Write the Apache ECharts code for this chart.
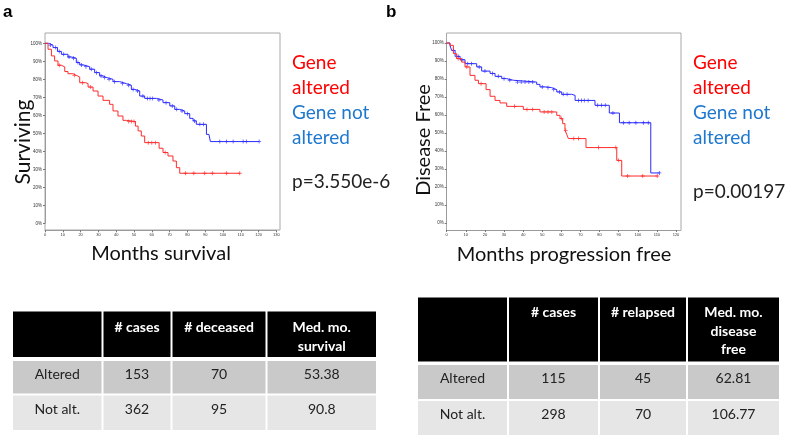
<!DOCTYPE html>
<html><head><meta charset="utf-8">
<script src="https://cdn.jsdelivr.net/npm/echarts@6/dist/echarts.min.js"></script>
<style>html,body{margin:0;padding:0;background:#fff}#c{width:787px;height:440px}</style>
</head><body><div id="c"></div>
<script>
// ---------- DATA ----------
const monthTicksA = [0,10,20,30,40,50,60,70,80,90,100,110,120,130];
const monthTicksB = [0,10,20,30,40,50,60,70,80,90,100,110,120];
// Panel a: overall survival (month, % surviving), step points
const survAltered = [[0,100],[1.7,96.7],[3.6,93.0],[5.4,90.2],[7.3,87.8],[9.2,86.9],[11.1,84.3],[12.9,83.1],[15.7,82.2],[17.6,81.3],[19.5,78.1],[22.9,77.6],[24.2,75.7],[27.0,73.5],[29.8,70.7],[32.6,68.3],[36.3,66.1],[38.2,62.4],[41.0,59.6],[43.8,57.2],[45.7,56.5],[50.8,54.0],[52.3,51.3],[54.1,48.5],[56.0,44.8],[64.1,41.7],[66.3,39.3],[69.1,37.4],[71.9,34.6],[73.8,30.9],[75.7,27.8],[109.4,27.8]];
const survAlteredCensor = [[8,87.8],[16.5,82.2],[21,78.1],[25.5,75.7],[47,56.5],[48.5,56.5],[50,56.5],[58,44.8],[60,44.8],[62,44.8],[67.5,39.3],[78.9,27.8],[83.6,27.8],[89.7,27.8],[94,27.8],[101.9,27.8],[109.4,27.8]];
const survNotAltered = [[0,100],[2,99],[4.5,97.6],[7,95.5],[9.2,93.9],[12.9,92.4],[14.8,91.7],[17.6,89.3],[19.5,88],[21.4,87],[25.1,85.6],[27.9,83.7],[30.7,81.9],[32.6,81],[34.5,80],[38.2,78.7],[42,77.6],[45.7,76.7],[48.5,74.4],[50.4,73.5],[53.2,70.7],[56,69.4],[62.6,68.5],[66.3,67],[70.1,65.2],[72.9,63.3],[75.7,62.4],[78.5,60.9],[81.3,58.3],[83.2,56.9],[85,55],[90.7,49.4],[92.1,48.5],[92.9,45.4],[120.3,45.4]];
const survNotAlteredCensor = [[3,99],[6,97.6],[8,95.5],[10.5,93.9],[13.5,92.4],[16,91.7],[18.5,89.3],[20.5,88],[23,87],[26,85.6],[29,83.7],[31.5,81.9],[33.5,81],[36,80],[39,78.7],[43.5,77.6],[47,76.7],[49.5,74.4],[52,73.5],[55,70.7],[57.5,69.4],[59,69.4],[60.5,69.4],[64,68.5],[68,67],[71.5,65.2],[74,63.3],[77,62.4],[80,60.9],[84,56.9],[87,55],[89,55],[98.2,45.4],[101.9,45.4],[105.7,45.4],[111.3,45.4],[113.1,45.4],[120.3,45.4]];
// Panel b: disease free (month, % disease free)
const dfsAltered = [[-9,100],[0,100],[1.7,98.7],[3.5,94.1],[5.2,91.3],[7.8,89.4],[9.6,86.7],[12.2,82],[14.8,79.3],[16.6,77.4],[20.6,74.1],[22.7,70.4],[25.3,68.1],[27.9,66.7],[31.4,64.8],[40.1,63.1],[48.8,61.7],[57.6,59.8],[59.3,58],[60.7,55.2],[61.9,51.5],[62.8,49.3],[63.7,46.9],[72.9,41.9],[89,34.8],[91.6,26.1],[110.2,26.1]];
const dfsAlteredCensor = [[6,91.3],[10.5,86.7],[18,77.4],[35.5,64.8],[42,63.1],[45,63.1],[51,61.7],[53,61.7],[55,61.7],[60,58],[62.3,51.5],[66.5,46.9],[69,46.9],[79.5,41.9],[88.5,41.9],[90,34.8],[94.7,26.1],[102.6,26.1],[110.2,26.1]];
const dfsNotAltered = [[0,100],[1.7,98.7],[2.6,95.9],[4.4,92.6],[7,90.7],[9.6,88.5],[15.7,86.7],[18.3,84.4],[22.7,83.1],[25.3,81.5],[28.8,80.2],[31.4,79.3],[34.9,78.3],[47.1,77],[48.8,75.6],[52.3,75.2],[54.9,74.1],[57.6,72.8],[60.2,71.5],[65.4,70.9],[67.2,68.1],[77.6,65.4],[85.1,61.1],[90.4,55.7],[106.8,27.8],[111.3,27.8]];
const dfsNotAlteredCensor = [[3.5,95.9],[6,92.6],[8,90.7],[11,88.5],[13,88.5],[17,86.7],[20,84.4],[24,83.1],[27,81.5],[30,80.2],[33,79.3],[37,78.3],[39,78.3],[41,78.3],[43,78.3],[45,78.3],[50,75.6],[53,75.2],[56,74.1],[59,72.8],[61,71.5],[63,71.5],[69,68.1],[70.5,68.1],[72,68.1],[74,68.1],[79,65.4],[81,65.4],[83,65.4],[87,61.1],[92.5,55.7],[95.5,55.7],[99,55.7],[103,55.7],[105.5,55.7],[111.3,27.8]];
// Texts
const panelLetters = ['a','b'];
const yNames = ['Surviving','Disease Free'];
const xNames = ['Months survival','Months progression free'];
const legendLines = [['Gene','altered'],['Gene not','altered']];
const pValues = ['p=3.550e-6','p=0.00197'];
// Tables
const tableAHeader = ['', '# cases', '# deceased', 'Med. mo.\nsurvival'];
const tableARows = [['Altered','153','70','53.38'],['Not alt.','362','95','90.8']];
const tableBHeader = ['', '# cases', '# relapsed', 'Med. mo.\ndisease\nfree'];
const tableBRows = [['Altered','115','45','62.81'],['Not alt.','298','70','106.77']];

// ---------- STYLE ----------
const RED = '#ff2b2b', BLUE = '#2b2bff';
const LEG_RED = '#ff0000', LEG_BLUE = '#1f78cf';
const FONT = 'Lato, "Open Sans", sans-serif';
const censorPath = 'path://M4,0h2v4h4v2h-4v4h-2v-4h-4v-2h4z';

function frameGrid(left, top, w, h){ return {left, top, width:w, height:h, show:true, borderColor:'#a8a8a8', borderWidth:1, backgroundColor:'transparent'}; }
function hiddenAxis(i){ return {gridIndex:i, show:false, type:'value', min:0, max:1}; }
function xAxisData(i, max){
  return {gridIndex:i, type:'value', min:0, max:max, interval:10, offset:7,
    axisLine:{show:true, onZero:false, lineStyle:{color:'#9a9a9a', width:1}},
    axisTick:{show:true, length:2, lineStyle:{color:'#777'}},
    axisLabel:{fontSize:4, color:'#333', margin:3, fontFamily:'Arial'},
    splitLine:{show:false}};
}
function yAxisData(i){
  return {gridIndex:i, type:'value', min:0, max:100, interval:10,
    axisLine:{show:true, lineStyle:{color:'#9a9a9a', width:1}},
    axisTick:{show:true, length:2, lineStyle:{color:'#777'}},
    axisLabel:{fontSize:4.5, color:'#333', margin:3, formatter:'{value}%', fontFamily:'Arial'},
    splitLine:{show:false}};
}
function kmLine(data, color, gi){
  return {type:'line', xAxisIndex:gi, yAxisIndex:gi, data, step:'end', showSymbol:false, clip:false,
    lineStyle:{color, width:1}, silent:true, animation:false};
}
function censor(data, color, gi){
  return {type:'scatter', xAxisIndex:gi, yAxisIndex:gi, data, symbol:censorPath, symbolSize:4,
    itemStyle:{color}, silent:true, animation:false};
}

const graphics = [];
function txt(x, y, text, opts){
  graphics.push(Object.assign({type:'text', x, y, silent:true,
    style:Object.assign({text, fill:'#222', font:'20px '+FONT, textAlign:'left', textVerticalAlign:'middle'}, opts||{})}));
}
// panel letters
graphics.push({type:'text', x:3, y:12, silent:true, style:{text:panelLetters[0], fill:'#000', font:'bold 17px Arial', textVerticalAlign:'middle'}});
graphics.push({type:'text', x:386, y:12, silent:true, style:{text:panelLetters[1], fill:'#000', font:'bold 17px Arial', textVerticalAlign:'middle'}});
// y names (rotated)
graphics.push({type:'text', x:23, y:142, rotation:Math.PI/2, silent:true, style:{text:yNames[0], fill:'#111', font:'21px '+FONT, textAlign:'center', textVerticalAlign:'middle'}});
graphics.push({type:'text', x:424, y:140, rotation:Math.PI/2, silent:true, style:{text:yNames[1], fill:'#111', font:'20px '+FONT, textAlign:'center', textVerticalAlign:'middle'}});
// x names
txt(161, 254, xNames[0], {textAlign:'center', fill:'#111'});
txt(564, 255, xNames[1], {textAlign:'center', fill:'#111'});
// legends
[[292,182],[693,192]].forEach(([lx,py],k)=>{
  txt(lx, 63, legendLines[0][0], {fill:LEG_RED, font:'19px '+FONT});
  txt(lx, 88, legendLines[0][1], {fill:LEG_RED, font:'19px '+FONT});
  txt(lx, 113, legendLines[1][0], {fill:LEG_BLUE, font:'19px '+FONT});
  txt(lx, 138, legendLines[1][1], {fill:LEG_BLUE, font:'19px '+FONT});
  txt(lx, py, pValues[k], {fill:'#222', font:'19px '+FONT});
});
// tables
function buildTable(edges, headTop, headBot, rowBounds, header, rows, lineH){
  const rowFills = ['#c9c9c9','#e6e6e6'];
  for(let c=0;c<edges.length-1;c++){
    const x0 = edges[c]+1, x1 = edges[c+1]-1;
    graphics.push({type:'rect', silent:true, shape:{x:x0, y:headTop, width:x1-x0, height:headBot-headTop}, style:{fill:'#000'}});
    if(header[c]) graphics.push({type:'text', silent:true, x:(x0+x1)/2, y:headTop+6,
      style:{text:header[c], fill:'#fff', font:'bold 14px '+FONT, textAlign:'center', textVerticalAlign:'top', lineHeight:lineH}});
    rows.forEach((r,ri)=>{
      const [t,b] = rowBounds[ri];
      graphics.push({type:'rect', silent:true, shape:{x:x0, y:t, width:x1-x0, height:b-t}, style:{fill:rowFills[ri]}});
      graphics.push({type:'text', silent:true, x:(x0+x1)/2, y:t+13.5,
        style:{text:r[c], fill:'#222', font:'14px '+FONT, textAlign:'center', textVerticalAlign:'middle'}});
    });
  }
}
buildTable([12,102.5,171.5,266.5,377], 311.5, 357, [[361,393.5],[395.5,430]], tableAHeader, tableARows, 19);
buildTable([417,508,599,687,780], 297.5, 361.5, [[365,399],[401,435]], tableBHeader, tableBRows, 18.5);

const option = {
  animation:false,
  backgroundColor:'#fff',
  grid:[frameGrid(45,33,235,197), {left:45, top:43.3, width:231.4, height:180},
        frameGrid(446.5,33,234.5,197.5), {left:446.7, top:43, width:229.3, height:180}],
  xAxis:[hiddenAxis(0), xAxisData(1, monthTicksA[monthTicksA.length-1]), hiddenAxis(2), xAxisData(3, monthTicksB[monthTicksB.length-1])],
  yAxis:[hiddenAxis(0), yAxisData(1), hiddenAxis(2), yAxisData(3)],
  series:[
    kmLine(survNotAltered, BLUE, 1), censor(survNotAlteredCensor, BLUE, 1),
    kmLine(survAltered, RED, 1), censor(survAlteredCensor, RED, 1),
    kmLine(dfsNotAltered, BLUE, 3), censor(dfsNotAlteredCensor, BLUE, 3),
    kmLine(dfsAltered, RED, 3), censor(dfsAlteredCensor, RED, 3)
  ],
  graphic: graphics
};
const chart = echarts.init(document.getElementById('c'), null, {renderer:'canvas'});
chart.setOption(option);
</script>
</body></html>
